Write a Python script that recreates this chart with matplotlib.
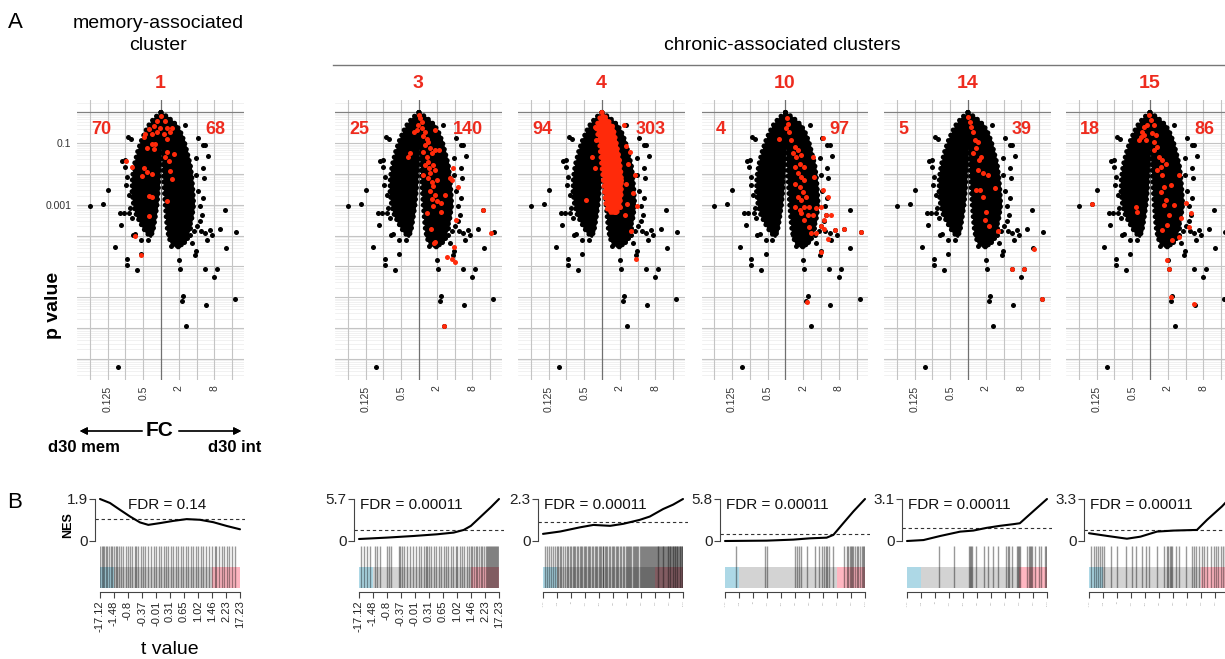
import numpy as np
import matplotlib
matplotlib.use('Agg')
import matplotlib.pyplot as plt
from matplotlib.lines import Line2D

plt.rcParams['font.family'] = ['Liberation Sans', 'DejaVu Sans']

# ---------------- data ----------------
clusters = ['1', '3', '4', '10', '14', '15']
n_down = [70, 25, 94, 4, 5, 18]
n_up = [68, 140, 303, 97, 39, 86]
fdr_text = ['0.14', '0.00011', '0.00011', '0.00011', '0.00011', '0.00011']
nes_max = [1.9, 5.7, 2.3, 5.8, 3.1, 3.3]
nes_thresh = [1.0, 1.46, 1.05, 0.97, 0.99, 0.90]
t_ticks = ['-17.12', '-1.48', '-0.8', '-0.37', '-0.01', '0.31', '0.65',
           '1.02', '1.46', '2.23', '17.23']
fc_ticks = [0.125, 0.5, 2, 8]
fc_tick_labels = ['0.125', '0.5', '2', '8']
p_ticks = [0.1, 0.001]
p_tick_labels = ['0.1', '0.001']

# dense core of the volcano (log2 FC, log10 p)
core_left_lp = [0, -0.18, -0.40, -0.62, -0.94, -1.27, -1.70, -2.13, -2.56, -3.00, -3.32, -3.59, -3.86, -4.03]
core_left_outer = [0, -0.37, -0.67, -0.88, -1.12, -1.31, -1.50, -1.61, -1.63, -1.54, -1.39, -1.16, -0.88, -0.62]
core_left_inner = [0, 0, 0, 0, 0, -0.04, -0.07, -0.11, -0.15, -0.22, -0.30, -0.37, -0.45, -0.58]
core_right_lp = [0, -0.18, -0.40, -0.62, -0.94, -1.27, -1.70, -2.13, -2.56, -3.00, -3.43, -3.86, -4.19, -4.40]
core_right_inner = [0, 0, 0, 0, 0.04, 0.07, 0.11, 0.15, 0.19, 0.24, 0.30, 0.37, 0.52, 0.90]
core_right_outer = [0, 0.45, 0.86, 1.09, 1.31, 1.46, 1.65, 1.74, 1.80, 1.84, 1.74, 1.55, 1.31, 0.99]

# individual (non-core) genes, log2 FC and log10 p
black_lfc = [-4.01, -3.26, -2.98, -2.57, -2.32, -2.10, -2.23, -1.91, -1.91, -1.35, -1.10, -1.59,
             -1.44, -1.12, -0.73, -2.42, -1.87, -1.69, -2.17, -2.00, -2.04, -1.91, -1.95, -1.82,
             -1.72, -1.78, -1.63, -1.29, -0.88, -0.69, -1.35, -0.97,
             1.37, 2.06, 2.49, 2.36, 2.62, 2.40, 2.34, 1.95, 1.99, 3.61, 4.23, 3.30, 3.65, 3.15,
             2.45, 3.00, 1.01, 1.05, 1.24, 1.18, 2.51, 4.19, 1.42, 2.77, 2.87, 2.30, 2.17, 2.02,
             1.87, 1.65, 1.46, 1.27, 0.90, 0.71, 0.43, 0.58, 1.97, 1.93, 1.61, 2.25, 2.49, 2.58,
             1.74, 2.21, 2.36, 2.06]
black_lp = [-3.03, -2.98, -2.52, -4.37, -3.28, -3.28, -3.66, -4.76, -4.96, -5.13, -4.59, -3.97,
            -3.95, -4.13, -4.13, -8.26, -0.80, -0.85, -1.57, -1.55, -1.76, -2.11, -2.37, -2.67,
            -3.11, -3.27, -3.43, -3.34, -3.61, -3.70, -3.11, -3.21,
            -0.40, -0.83, -1.05, -1.07, -1.43, -2.13, -1.81, -1.48, -2.02, -3.18, -3.89, -3.78,
            -4.40, -5.08, -5.09, -5.35, -4.79, -5.08, -5.97, -6.14, -6.24, -6.07, -6.92, -3.83,
            -3.99, -3.32, -3.54, -3.70, -3.86, -3.97, -4.08, -4.21, -4.11, -4.03, -3.97, -4.35,
            -4.51, -4.62, -3.76, -3.86, -3.92, -4.13, -4.24, -3.05, -2.78, -2.56]

red_lfc = {
    '1': [0, -0.22, 0.24, -0.41, -0.04, 0.34, 0.62, -0.69, -0.88, -0.51, -0.22, 0.15, 0.52, -0.97,
          0.34, -0.51, -0.32, -0.79, -0.41, 0.34, 0.71, 0.24, 0.43, -1.95, -1.63, -0.97, -0.79,
          -0.51, -1.07, 0.52, 0.62, -0.69, -0.51, 0.34, -0.69, -1.44, -1.10],
    '3': [0, 0.06, 0.15, -0.04, 0.19, 0.34, -0.13, -0.26, 0.24, 0.43, 0.52, 0.34, 0.62, 0.90,
          1.12, 0.71, 0.43, 0.52, 0.81, 0.90, 0.62, 0.49, 0.71, 0.99, 0.81, 0.62, 0.90, 0.71,
          0.99, 0.81, 1.24, 0.43, 1.24, 0.67, 0.90, -0.49, -0.64, 0.90, 1.46, 1.74, 1.84, 1.93,
          2.17, 2.06, 3.61, 4.04, 0.84, 1.55, 1.84, 2.02, 1.99, 1.42, 0.24, 0.34, 0.56, 0.24],
    '4': [1.22, 1.33, 1.55, 1.46, 1.84, 1.33, 1.74, 1.99, 1.40, 1.27, 1.65, 1.89, -0.54, -0.41,
          -0.88, 0.43, 0.71, 0.99, 0.90, 1.09, -0.32, -0.41],
    '10': [0.07, 0.17, 0.04, -0.34, 0.22, 0.32, 0.51, 0.69, 0.41, 0.60, 0.88, 0.79, 0.51, 1.07,
           0.69, 0.88, 0.51, 1.07, 0.79, 0.97, 0.69, 0.88, 1.16, 0.51, 0.79, 1.07, 1.35, 1.54,
           1.72, 1.25, 0.88, 1.07, 1.35, 1.44, 1.72, 2.00, 2.19, 2.28, 2.57, 2.38, 2.10, 2.00,
           2.15, 2.38, 2.79, 3.31, 4.25, 1.97, 1.63, 1.54, 2.10, 1.20],
    '14': [0, 0.09, 0.19, 0.28, 0.37, 0.56, 0.47, 0.28, 0.75, 0.60, 0.56, 0.84, 0.66, 0.47,
           0.84, 1.12, 1.50, 1.03, 0.94, 1.16, 1.69, 3.69, 2.47, 3.15, 4.18],
    '15': [-0.06, 0.04, -0.15, 0.22, -0.34, -0.43, -0.52, -0.62, -0.24, -0.34, 0.13, 0.32, 0.22,
           0.41, 0.22, 0.51, 0.69, 0.88, 0.60, 0.41, 0.69, 0.79, 0.60, 1.16, 0.88, 0.79, 1.63,
           1.35, 2.00, 2.28, 2.19, 1.72, 1.07, 0.97, 0.69, 1.63, 1.25, -0.81, -0.71, -3.24, 0.97,
           1.07, 1.20, 2.47],
}
red_lp = {
    '1': [-0.11, -0.27, -0.27, -0.43, -0.49, -0.49, -0.49, -0.54, -0.70, -0.70, -0.65, -0.70,
          -0.65, -0.81, -0.87, -1.03, -1.03, -1.14, -1.19, -1.30, -1.35, -1.46, -1.57, -1.59,
          -1.76, -1.79, -1.95, -2.00, -2.06, -1.90, -2.17, -2.71, -2.76, -2.87, -3.36, -4.00, -4.62],
    '3': [-0.08, -0.18, -0.31, -0.42, -0.51, -0.62, -0.56, -0.64, -0.78, -0.85, -0.96, -1.07,
          -1.16, -1.21, -1.21, -1.32, -1.46, -1.61, -1.72, -1.86, -1.97, -2.13, -2.26, -2.19,
          -2.40, -2.54, -2.67, -2.80, -2.89, -3.05, -2.94, -3.27, -3.24, -3.78, -4.21, -1.32,
          -1.46, -0.58, -2.67, -2.13, -2.19, -1.81, -2.41, -3.48, -3.18, -3.90, -4.24, -4.71,
          -4.77, -4.87, -4.37, -6.92, -1.27, -1.70, -1.81, -2.02],
    '4': [-0.41, -1.09, -1.28, -1.66, -2.03, -2.33, -2.63, -3.03, -2.98, -3.33, -3.84, -4.76,
          -1.44, -1.82, -2.85, -2.85, -3.23, -3.06, -2.52, -2.20, -0.90, -0.47],
    '10': [-0.19, -0.36, -0.52, -0.87, -0.63, -0.90, -1.11, -1.22, -1.33, -1.44, -1.39, -1.66,
           -1.76, -1.76, -1.98, -2.09, -2.31, -2.20, -2.41, -2.58, -2.74, -2.85, -2.74, -3.06,
           -3.17, -3.06, -3.06, -3.33, -3.12, -3.33, -3.28, -3.50, -3.71, -3.93, -3.93, -3.68,
           -3.50, -3.33, -3.33, -2.76, -2.52, -3.06, -3.80, -4.11, -3.82, -3.80, -3.87, -4.52,
           -2.09, -1.44, -0.84, -6.15],
    '14': [-0.14, -0.30, -0.47, -0.63, -0.90, -0.95, -1.17, -1.33, -1.44, -1.55, -1.87, -1.98,
           -2.52, -2.52, -2.76, -2.03, -2.47, -3.23, -3.50, -3.69, -3.84, -4.42, -5.10, -5.08,
           -6.07],
    '15': [-0.09, -0.25, -0.41, -0.41, -0.47, -0.63, -0.79, -0.90, -0.90, -0.74, -0.68, -0.74,
           -0.95, -1.11, -1.22, -1.44, -1.55, -1.66, -1.76, -1.87, -2.03, -2.41, -2.58, -2.36,
           -2.85, -3.01, -2.03, -3.01, -2.95, -3.28, -3.71, -3.44, -3.33, -3.66, -3.82, -4.04,
           -4.15, -3.06, -3.23, -2.99, -4.79, -5.08, -5.98, -6.23],
}
# dense red area in cluster 4 (log10 p, log2 FC limits)
red4_core_lp = [0, -0.47, -1.01, -1.55, -2.09, -2.63, -3.06, -3.28]
red4_core_left = [0, -0.32, -0.13, -0.04, 0.06, 0.15, 0.24, 0.43]
red4_core_right = [0, 0.62, 0.81, 0.99, 1.09, 1.09, 0.99, 0.81]

# running enrichment curves (rank fraction, NES)
curve_x = [
    [0, .071, .143, .214, .286, .345, .429, .524, .619, .714, .810, .905, 1.0],
    [0, .199, .390, .557, .676, .748, .799, .871, .943, 1.0],
    [0, .123, .265, .360, .479, .573, .692, .763, .858, .929, 1.0],
    [0, .298, .488, .607, .726, .774, .845, .917, 1.0],
    [0, .118, .237, .379, .474, .569, .664, .758, .806, .900, 1.0],
    [0, .129, .271, .367, .486, .605, .771, .843, .950, 1.0],
]
curve_y = [
    [1.9, 1.72, 1.41, 1.11, 0.84, 0.73, 0.81, 0.91, 0.99, 0.96, 0.85, 0.68, 0.53],
    [0.27, 0.46, 0.68, 0.91, 1.14, 1.50, 2.05, 3.33, 4.61, 5.7],
    [0.39, 0.52, 0.75, 0.88, 0.83, 0.94, 1.16, 1.34, 1.75, 1.99, 2.3],
    [0, 0.05, 0.19, 0.37, 0.46, 0.84, 2.46, 4.08, 5.8],
    [0, 0.07, 0.37, 0.69, 0.77, 0.97, 1.12, 1.24, 1.31, 2.18, 3.1],
    [0.61, 0.40, 0.18, 0.34, 0.74, 0.82, 0.87, 1.66, 2.72, 3.3],
]
# barcode hit positions (rank fraction)
hits = [
    [0, .012, .024, .031, .041, .053, .065, .079, .089, .103, .113, .122, .137, .149, .163, .185,
     .197, .211, .228, .247, .257, .271, .293, .305, .324, .343, .367, .384, .403, .424, .436,
     .456, .472, .487, .504, .520, .540, .556, .576, .592, .612, .631, .647, .664, .683, .700,
     .719, .736, .755, .779, .799, .818, .832, .851, .871, .887, .904, .923, .942, .966],
    [.017, .036, .055, .079, .112, .131, .150, .202, .214, .231, .286, .293, .310, .321, .345,
     .364, .388, .405, .429, .440, .464, .476, .488, .500, .517, .536, .548, .571, .588, .607,
     .619, .636, .655, .674, .690, .702, .721, .738, .750, .769, .786, .798, .810, .821, .833,
     .845, .857, .869, .881, .893, .905, .912, .921, .929, .936, .945, .952, .960, .964, .971,
     .979, .986, .993],
    [.012, .03, .045, .058, .07, .085, .097, .11, .122, .13, .145, .158, .168, .178, .19, .2,
     .212, .222, .232, .24, .252, .262, .27, .282, .29, .3, .31, .318, .33, .338, .35, .36,
     .368, .378, .388, .398, .405, .415, .425, .432, .442, .452, .46, .47, .48, .49, .5, .51,
     .518, .528, .538, .548, .56, .568, .575, .59, .598, .606, .615, .624, .632, .64, .648,
     .657, .665, .673, .68, .69, .698, .705, .713, .72, .728, .736, .744, .75, .758, .765,
     .772, .78, .786, .793, .8, .806, .812, .818, .824, .83, .836, .842, .848, .854, .86, .866,
     .872, .878, .884, .89, .895, .9, .905, .91, .915, .92, .925, .93, .935, .94, .945, .95,
     .955, .96, .965, .97, .975, .98, .985, .99, .995],
    [.076, .288, .298, .500, .512, .526, .543, .588, .643, .671, .695, .707, .721, .731, .740,
     .774, .850, .874, .881, .893, .900, .907, .917, .929, .940, .952, .964, .976, .983, .993,
     1.0],
    [.226, .333, .440, .448, .457, .464, .493, .548, .579, .612, .650, .707, .721, .731, .750,
     .786, .793, .802, .810, .857, .869, .881, .888, .893, .912, .945, .960, .988, .995, 1.0],
    [.012, .036, .052, .067, .076, .090, .105, .155, .202, .262, .310, .333, .381, .405, .429,
     .488, .536, .555, .567, .576, .586, .595, .619, .643, .690, .738, .750, .762, .786, .810,
     .821, .845, .869, .893, .910, .924, .940, .957, .97, .98, .99],
]

# ---------------- layout ----------------
W, H = 1225, 659
fig = plt.figure(figsize=(W / 100, H / 100), dpi=100)


def fx(px):
    return px / W


def fy(py):
    return 1 - py / H


RED = '#ee2b1e'
DOT = '#ff2a0a'
volc_left = [77, 335, 518, 701.5, 884, 1066]
volc_w = 166.5
volc_top, volc_bot = 99.5, 380.0
bar_left = [100, 359, 543, 725, 907, 1089]
bar_w = 140.0
BEAD = dict(lw=3.6, ls=(0, (0.01, 1.15)), dash_capstyle='round', zorder=3)


def lobe(ax, lp, x1, x2, color, z):
    yy = 10.0 ** np.array(lp)
    a = 2.0 ** np.array(x1)
    b = 2.0 ** np.array(x2)
    ax.fill_betweenx(yy, a, b, facecolor=color, edgecolor=color, lw=1.2, zorder=z)
    ax.plot(a, yy, color=color, **{**BEAD, 'zorder': z})
    ax.plot(b, yy, color=color, **{**BEAD, 'zorder': z})


for i, cl in enumerate(clusters):
    L = volc_left[i]
    ax = fig.add_axes([fx(L), fy(volc_bot), volc_w / W, (volc_bot - volc_top) / H])
    ax.set_xscale('log', base=2)
    ax.set_yscale('log')
    ax.set_xlim(2 ** -4.72, 2 ** 4.64)
    ax.set_ylim(10 ** -8.69, 10 ** 0.42)
    for s in ax.spines.values():
        s.set_visible(False)
    # grid
    for k in range(-9, 1):
        for m in range(2, 10):
            ax.axhline(m * 10.0 ** k, color='#ebebeb', lw=0.5, zorder=0)
    for k in range(-9, 0):
        ax.axhline(10.0 ** k, color='#c4c4c4', lw=0.8, zorder=0)
    ax.axhline(1.0, color='#808080', lw=0.9, zorder=1)
    for k in range(-4, 5):
        if k == 0:
            continue
        ax.axvline(2.0 ** k, color='#c4c4c4', lw=0.8, zorder=0)
    ax.axvline(1.0, color='#707070', lw=0.9, zorder=1)

    # dense core
    lobe(ax, core_left_lp, core_left_outer, core_left_inner, 'black', 3)
    lobe(ax, core_right_lp, core_right_inner, core_right_outer, 'black', 3)
    ax.scatter(2.0 ** np.array(black_lfc), 10.0 ** np.array(black_lp), s=13, c='black',
               lw=0, zorder=4)
    if cl == '4':
        lobe(ax, red4_core_lp, red4_core_left, red4_core_right, DOT, 5)
    ax.scatter(2.0 ** np.array(red_lfc[cl]), 10.0 ** np.array(red_lp[cl]), s=13, c=DOT,
               lw=0, zorder=6)

    ax.set_xticks(fc_ticks)
    ax.set_xticklabels(fc_tick_labels, rotation=90, fontsize=7.5, color='#333333')
    ax.minorticks_off()
    ax.tick_params(axis='x', length=0, pad=4)
    if i == 0:
        ax.set_yticks(p_ticks)
        ax.set_yticklabels(p_tick_labels, fontsize=7.5, color='#333333')
        ax.tick_params(axis='y', length=0, pad=4)
    else:
        ax.set_yticks([])
    ax.minorticks_off()

    fig.text(fx(L + volc_w / 2), fy(83), cl, color=RED, fontsize=14, fontweight='bold',
             ha='center', va='center')
    fig.text(fx(L + 14), fy(130), str(n_down[i]), color=RED, fontsize=13, fontweight='bold',
             ha='left', va='center')
    fig.text(fx(L + 148), fy(130), str(n_up[i]), color=RED, fontsize=13, fontweight='bold',
             ha='right', va='center')

    # ---------- GSEA panel ----------
    B = bar_left[i]
    pad_l, pad_r = 5.5, 5.0
    cax = fig.add_axes([fx(B - pad_l), fy(541), (bar_w + pad_l + pad_r) / W, 42 / H])
    cax.set_xlim(-pad_l / bar_w, 1 + pad_r / bar_w)
    cax.set_ylim(0, nes_max[i])
    for s in ['top', 'right', 'bottom']:
        cax.spines[s].set_visible(False)
    cax.spines['left'].set_color('#444444')
    cax.spines['left'].set_linewidth(0.8)
    cax.set_xticks([])
    cax.set_yticks([0, nes_max[i]])
    cax.set_yticklabels(['0', str(nes_max[i])], fontsize=11, color='#222222')
    cax.tick_params(axis='y', length=4, width=0.8, color='#444444', pad=1)
    cax.patch.set_alpha(0)
    cax.axhline(nes_thresh[i], color='#333333', lw=0.8, ls=(0, (3, 2.5)))
    cax.plot(curve_x[i], curve_y[i], color='black', lw=1.5, clip_on=False,
             solid_capstyle='round')
    if i == 0:
        fig.text(fx(B + bar_w / 2 - 3), fy(505), 'FDR = ' + fdr_text[i], fontsize=11,
                 ha='center', va='center', color='#111111')
    else:
        fig.text(fx(B - pad_l + 6), fy(505), 'FDR = ' + fdr_text[i], fontsize=11,
                 ha='left', va='center', color='#111111')

    bax = fig.add_axes([fx(B), fy(588), bar_w / W, 42 / H])
    bax.set_xlim(0, 1)
    bax.set_ylim(0, 2)
    bax.fill_between([0, 1], 0, 1, color='#d3d3d3', lw=0, zorder=0)
    bax.fill_between([0, 0.1], 0, 1, color='#add8e6', lw=0, zorder=1)
    bax.fill_between([0.8, 1.0], 0, 1, color='#ffb6c1', lw=0, zorder=1)
    bax.vlines(hits[i], 0, 2, color='black', alpha=0.4, lw=1.0, zorder=2)
    for s in ['top', 'right', 'left']:
        bax.spines[s].set_visible(False)
    bax.spines['bottom'].set_position(('outward', 3))
    bax.spines['bottom'].set_color('#444444')
    bax.spines['bottom'].set_linewidth(0.8)
    bax.set_yticks([])
    bax.set_xticks([j / 10 for j in range(11)])
    if i <= 1:
        bax.set_xticklabels(t_ticks, rotation=90, fontsize=8, color='#222222')
    else:
        labs = list(t_ticks)
        if i == len(clusters) - 1:
            labs[-1] = ''   # falls outside the figure edge
        bax.set_xticklabels(labs, rotation=90, fontsize=1.6, color='#999999')
    bax.tick_params(axis='x', length=4, width=0.8, color='#444444', pad=2)

# ---------------- annotations ----------------
fig.text(fx(15), fy(22), 'A', fontsize=16, ha='center', va='center')
fig.text(fx(15), fy(502), 'B', fontsize=16, ha='center', va='center')
fig.text(fx(158), fy(24), 'memory-associated', fontsize=14, ha='center', va='center')
fig.text(fx(158), fy(45), 'cluster', fontsize=14, ha='center', va='center')
fig.text(fx(782), fy(45), 'chronic-associated clusters', fontsize=14, ha='center',
         va='center')
fig.add_artist(Line2D([fx(333), fx(1225)], [fy(64.5), fy(64.5)], color='#777777', lw=1.0))
fig.text(fx(53), fy(305), 'p value', fontsize=14, fontweight='bold', rotation=90,
         ha='center', va='center')
fig.text(fx(160), fy(431), 'FC', fontsize=15, fontweight='bold', ha='center', va='center')
fig.add_artist(plt.annotate('', xy=(fx(77), fy(431)), xytext=(fx(145), fy(431)),
                            xycoords='figure fraction', textcoords='figure fraction',
                            arrowprops=dict(arrowstyle='-|>', color='black', lw=0.9,
                                            mutation_scale=11)))
fig.add_artist(plt.annotate('', xy=(fx(244), fy(431)), xytext=(fx(176), fy(431)),
                            xycoords='figure fraction', textcoords='figure fraction',
                            arrowprops=dict(arrowstyle='-|>', color='black', lw=0.9,
                                            mutation_scale=11)))
fig.text(fx(84), fy(448), 'd30 mem', fontsize=12, fontweight='bold', ha='center', va='center')
fig.text(fx(235), fy(448), 'd30 int', fontsize=12, fontweight='bold', ha='center', va='center')
fig.text(fx(68), fy(525), 'NES', fontsize=9, fontweight='bold', rotation=90, ha='center',
         va='center')
fig.text(fx(170), fy(650), 't value', fontsize=14, ha='center', va='center')

fig.savefig('out.png', dpi=100)
